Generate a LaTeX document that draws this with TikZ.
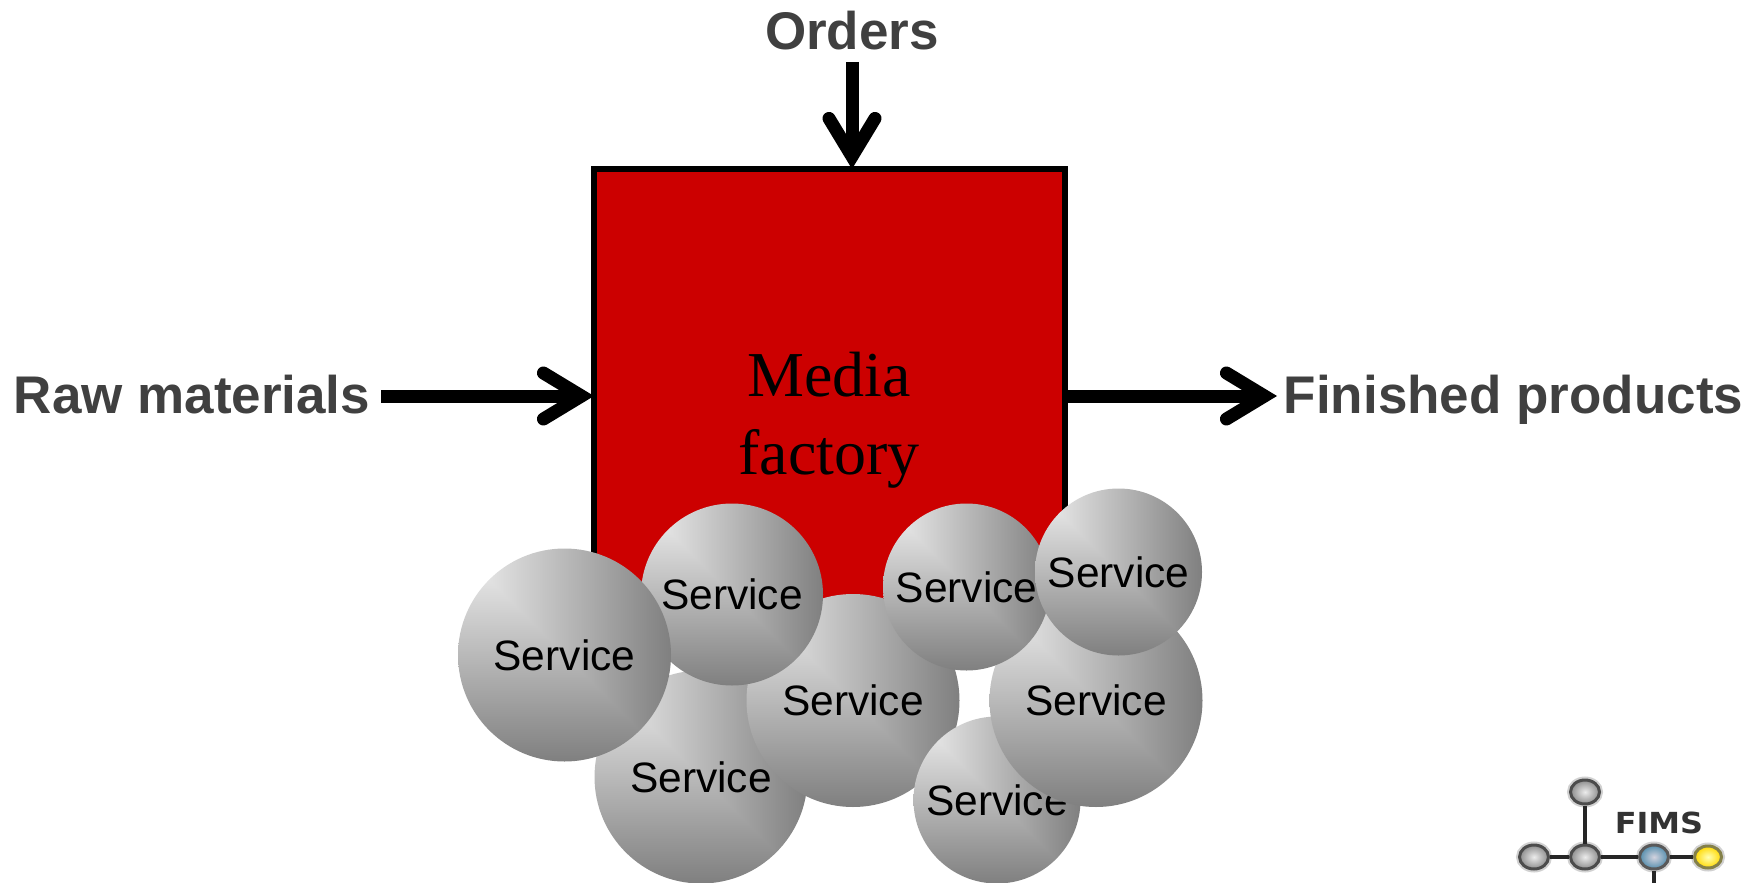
\documentclass[tikz,border=0pt]{standalone}
\usepackage{fontspec}
\setmainfont{Liberation Sans}
\newfontfamily\timesface{Liberation Serif}
\newfontfamily\logoface{DejaVu Sans}
\usetikzlibrary{arrows.meta,shapes.geometric,shadings}
\definecolor{factoryred}{HTML}{CC0000}
\definecolor{labelgrey}{HTML}{404040}
\pgfdeclarefunctionalshading{cornergrey}{\pgfpoint{-50bp}{-50bp}}{\pgfpoint{50bp}{50bp}}{}{
  25 exch sub exch 25 add 2 copy lt {exch} if pop 50 div 0.45 mul 0.95 exch sub dup dup
}
\tikzset{
  flowarrow/.style={line width=13pt,-{Straight Barb[length=38pt,width=46pt,line cap=round,line join=miter]}},
  flowlabel/.style={anchor=base,inner sep=0pt,text=labelgrey,font=\fontsize{53}{60}\selectfont\bfseries},
  factorytext/.style={anchor=base,inner sep=0pt,text=black,font=\fontsize{64}{70}\selectfont\timesface},
  servicebig/.style={circle,inner sep=0pt,minimum size=213pt,shading=cornergrey,font=\fontsize{42.5}{50}\selectfont},
  servicesmall/.style={servicebig,minimum size=167pt},
  servicemid/.style={servicebig,minimum size=182pt},
  logoball/.style={ellipse,inner sep=0pt,minimum width=29pt,minimum height=24pt,draw=black!70,line width=3pt,inner color=gray!15,outer color=gray!90,preaction={draw=black,opacity=.18,line width=7pt}},
  logoline/.style={line width=3.5pt,draw=black!85},
}
\begin{document}
\begin{tikzpicture}[x=1pt,y=-1pt]
\useasboundingbox (0,0) rectangle (1759,883);
% factory
\node[rectangle,draw=black,fill=factoryred,line width=6pt,inner sep=0pt,minimum width=471pt,minimum height=469pt,outer sep=3pt] (factory) at (829.5,403.5) {};
\node[factorytext] (media) at (829,396) {Media};
\node[factorytext] (fact) at (829,474) {factory};
% labels
\node[flowlabel] (orders) at (852,49) {Orders};
\node[flowlabel] (raw) at (192,413) {Raw materials};
\node[flowlabel] (finished) at (1513.5,413) {Finished products};
\coordinate (ordersstart) at (852,62);
\coordinate (rawstart) at (381,396);
\coordinate (finishedend) at (1277,396);
\draw[flowarrow,shorten >=-3pt] (ordersstart) -- (ordersstart |- factory.north);
\draw[flowarrow,shorten >=-3pt] (rawstart) -- (rawstart -| factory.west);
\draw[flowarrow] (finishedend -| factory.east) -- (finishedend);
% services, back to front
\node[servicebig] (s4) at (701,777) {Service};
\node[servicebig] (s3) at (853,700.5) {Service};
\node[servicesmall] (s8) at (997,800) {Service};
\node[servicebig] (s7) at (1096,700.5) {Service};
\node[servicemid] (s2) at (732,594.5) {Service};
\node[servicebig] (s1) at (564.5,655) {Service};
\node[servicesmall] (s5) at (966.5,587) {Service};
\node[servicesmall] (s6) at (1118.5,572) {Service};
% logo
\node[logoball] (lt) at (1585,792) {};
\node[logoball] (ll) at (1534,857) {};
\node[logoball] (lm) at (1585,857) {};
\node[logoball,inner color=blue!15!gray!30,outer color=blue!35!cyan!35!gray,draw=black!65] (lb) at (1654,857) {};
\node[logoball,minimum width=27pt,minimum height=22pt,inner color=yellow!30,outer color=yellow!70!orange,draw=black!55!yellow] (ly) at (1708,857) {};
\coordinate (lbottom) at (1654,883);
\draw[logoline] (lt) -- (lm);
\draw[logoline] (ll) -- (lm);
\draw[logoline] (lm) -- (lb);
\draw[logoline] (lb) -- (ly);
\draw[logoline] (lb) -- (lbottom);
\node[anchor=base,inner sep=0pt,text=black!80,font=\fontsize{29}{32}\selectfont\logoface\bfseries,xscale=1.1] (fims) at (1659,833) {FIMS};
\end{tikzpicture}
\end{document}
